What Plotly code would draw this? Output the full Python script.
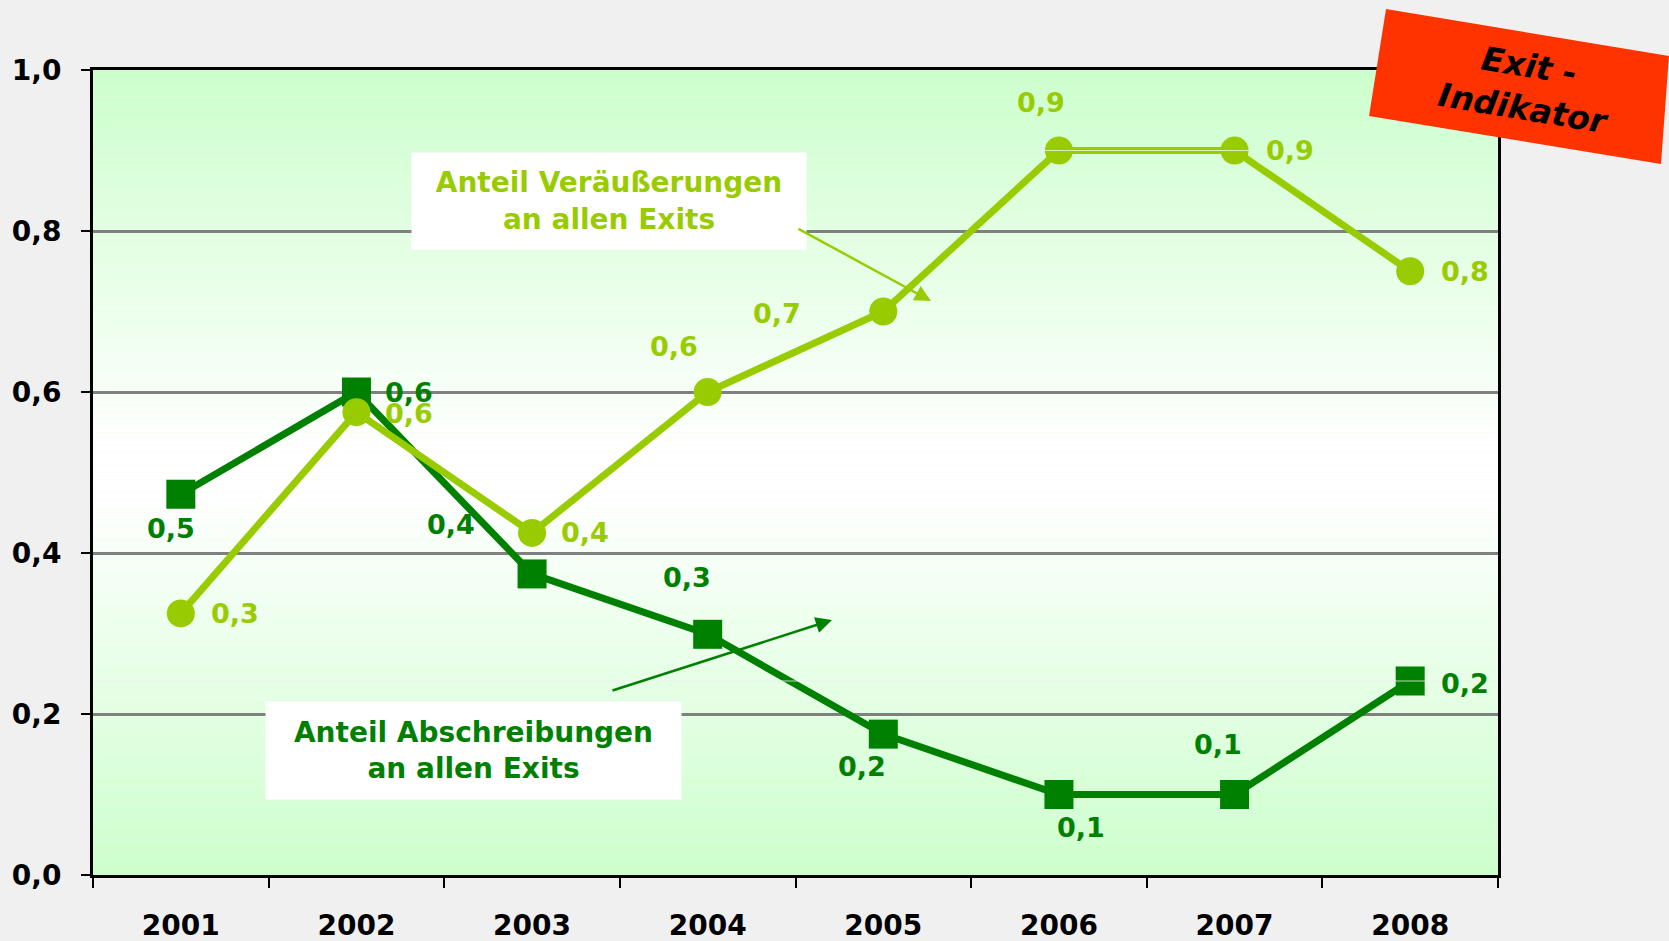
import plotly.graph_objects as go

# ---------------- data ----------------
years = ["2001", "2002", "2003", "2004", "2005", "2006", "2007", "2008"]
verausserungen = [0.325, 0.575, 0.425, 0.60, 0.70, 0.90, 0.90, 0.75]
abschreibungen = [0.473, 0.60, 0.374, 0.299, 0.175, 0.10, 0.10, 0.241]
y_tick_vals = [0.0, 0.2, 0.4, 0.6, 0.8, 1.0]
y_tick_text = ["0,0", "0,2", "0,4", "0,6", "0,8", "1,0"]

name_light = "Anteil Veräußerungen<br>an allen Exits"
name_dark = "Anteil Abschreibungen<br>an allen Exits"
badge_text = "Exit -<br>Indikator"

# ---------------- style ----------------
LIGHT = "#99CC00"
DARK = "#008000"
FONT = "DejaVu Sans"
W, H = 1669, 941
ML, MR, MT, MB = 93, 171, 70, 66
PW, PH = W - ML - MR, H - MT - MB

def px_to_paper(px, py):
    return (px - ML) / PW, (H - MB - py) / PH

# label offsets (pixels) per point
dark_shift = [(-10, -34), (53, 0), (-81, 49), (-21, 57), (-21, -32), (22, -33), (-17, 50), (55, -2)]
light_shift = [(54, 0), (53, -1), (53, 0), (-34, 46), (-106, -2), (-18, 48), (55, 0), (55, 0)]

def fmt(v):
    return f"{v:.1f}".replace(".", ",")

fig = go.Figure()

fig.add_trace(go.Scatter(
    x=years, y=abschreibungen, mode="lines+markers",
    line=dict(color=DARK, width=7),
    marker=dict(symbol="square", size=29, color=DARK),
    hoverinfo="skip", showlegend=False,
))
fig.add_trace(go.Scatter(
    x=years, y=verausserungen, mode="lines+markers",
    line=dict(color=LIGHT, width=7),
    marker=dict(symbol="circle", size=28, color=LIGHT),
    hoverinfo="skip", showlegend=False,
))

shapes = []
# vertical gradient background: green -> white -> green
N = 120
for i in range(N):
    y0 = i / N
    y1 = (i + 1) / N
    ym = (y0 + y1) / 2
    w = 1 - abs(ym - 0.5) / 0.5
    c = int(round(204 + 51 * min(1.0, w * 1.05)))
    c = min(c, 255)
    shapes.append(dict(
        type="rect", xref="x domain", yref="y domain",
        x0=0, x1=1, y0=y0, y1=y1,
        fillcolor=f"rgb({c},255,{c})", line=dict(width=0), layer="below",
    ))

# faint band lines
for yv in (0.9, 0.241):
    shapes.append(dict(
        type="line", xref="x domain", yref="y",
        x0=0, x1=1, y0=yv, y1=yv,
        line=dict(color="rgba(235,242,235,0.8)", width=1), layer="above",
    ))

# rotated badge
corners = [(1386, 9), (1669, 56), (1661, 164), (1369, 116)]
pc = [px_to_paper(*c) for c in corners]
path = "M " + " L ".join(f"{x:.4f},{y:.4f}" for x, y in pc) + " Z"
shapes.append(dict(
    type="path", xref="paper", yref="paper", path=path,
    fillcolor="#FF3300", line=dict(width=0), layer="above",
))

annotations = []
for i, v in enumerate(abschreibungen):
    dx, dy = dark_shift[i]
    annotations.append(dict(
        x=i, y=v, xref="x", yref="y", text=fmt(v), showarrow=False,
        xshift=dx, yshift=dy,
        font=dict(family=FONT, size=27, color=DARK, weight="bold"),
    ))
for i, v in enumerate(verausserungen):
    dx, dy = light_shift[i]
    annotations.append(dict(
        x=i, y=v, xref="x", yref="y", text=fmt(v), showarrow=False,
        xshift=dx, yshift=dy,
        font=dict(family=FONT, size=27, color=LIGHT, weight="bold"),
    ))

# label boxes
bx, by = px_to_paper(609, 201)
annotations.append(dict(
    x=bx, y=by, xref="paper", yref="paper", text=name_light, showarrow=False,
    bgcolor="white", width=394, height=96, borderpad=0, align="center",
    xanchor="center", yanchor="middle",
    font=dict(family=FONT, size=28, color=LIGHT, weight="bold"),
))
bx, by = px_to_paper(473.5, 750.5)
annotations.append(dict(
    x=bx, y=by, xref="paper", yref="paper", text=name_dark, showarrow=False,
    bgcolor="white", width=415, height=97, borderpad=0, align="center",
    xanchor="center", yanchor="middle",
    font=dict(family=FONT, size=28, color=DARK, weight="bold"),
))

# arrows
tx, ty = px_to_paper(931, 301)
annotations.append(dict(
    x=tx, y=ty, xref="paper", yref="paper", text="", showarrow=True,
    ax=797 - 931, ay=228 - 301, arrowhead=2, arrowsize=1.3, arrowwidth=2.5,
    arrowcolor=LIGHT,
))
tx, ty = px_to_paper(832, 620)
annotations.append(dict(
    x=tx, y=ty, xref="paper", yref="paper", text="", showarrow=True,
    ax=611 - 832, ay=691 - 620, arrowhead=2, arrowsize=1.3, arrowwidth=2.5,
    arrowcolor=DARK,
))

# badge text
bx, by = px_to_paper(1526, 87)
annotations.append(dict(
    x=bx, y=by, xref="paper", yref="paper", text=badge_text, showarrow=False,
    textangle=9.4, xanchor="center", yanchor="middle", align="center",
    font=dict(family=FONT, size=33, color="black", weight="bold", style="italic"),
))

fig.update_layout(
    width=W, height=H,
    margin=dict(l=ML, r=MR, t=MT, b=MB, pad=0, autoexpand=False),
    paper_bgcolor="#F0F0F0",
    plot_bgcolor="rgba(0,0,0,0)",
    shapes=shapes,
    annotations=annotations,
    separators=",.",
    showlegend=False,
)
fig.update_xaxes(
    type="category", tickson="boundaries", automargin=False,
    ticks="outside", ticklen=10, tickwidth=2, tickcolor="black",
    showline=True, linecolor="black", linewidth=3, mirror=True,
    showgrid=False, ticklabelstandoff=23,
    tickfont=dict(family=FONT, size=28, color="black", weight="bold"),
    range=[-0.5, 7.5],
)
fig.update_yaxes(
    range=[0, 1], tickvals=y_tick_vals, ticktext=y_tick_text, automargin=False,
    ticks="outside", ticklen=9, tickwidth=2, tickcolor="black",
    showline=True, linecolor="black", linewidth=3, mirror=True,
    showgrid=True, gridcolor="#808080", gridwidth=3, zeroline=False,
    ticklabelstandoff=14,
    tickfont=dict(family=FONT, size=28, color="black", weight="bold"),
)

fig.write_html(
    "out.html",
    config={"displayModeBar": False},
    post_script="document.body.style.margin='0';document.body.style.overflow='hidden';"
                "document.body.style.background='#F0F0F0';",
)
